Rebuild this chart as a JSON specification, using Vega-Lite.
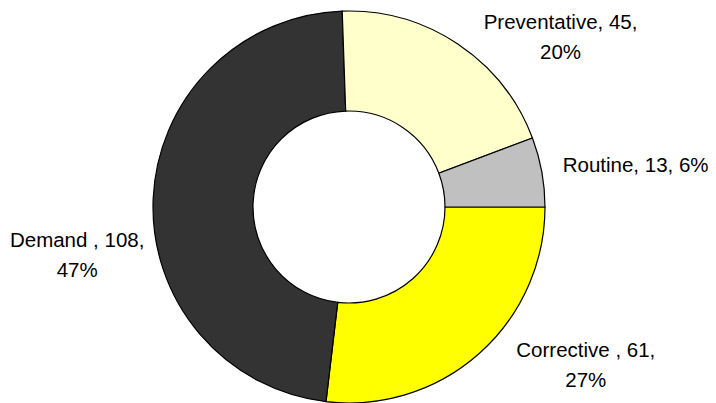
{
  "$schema": "https://vega.github.io/schema/vega-lite/v6.json",
  "width": 698,
  "height": 392,
  "autosize": {"type": "none"},
  "padding": {"left": 0, "top": 11, "right": 18, "bottom": 0},
  "background": "white",
  "view": {"stroke": null},
  "data": {
    "values": [
      {"category": "Corrective", "value": 61, "label": "Corrective , 61,\n27%"},
      {"category": "Demand", "value": 108, "label": "Demand , 108,\n47%"},
      {"category": "Preventative", "value": 45, "label": "Preventative, 45,\n20%"},
      {"category": "Routine", "value": 13, "label": "Routine, 13, 6%"}
    ]
  },
  "encoding": {
    "theta": {"field": "value", "type": "quantitative", "stack": true, "scale": {"range": [1.5707963, 7.8539816]}}
  },
  "layer": [
    {
      "mark": {"type": "arc", "outerRadius": 196, "innerRadius": 96, "stroke": "black", "strokeWidth": 1.2},
      "encoding": {
        "color": {
          "field": "category",
          "type": "nominal",
          "scale": {"domain": ["Corrective", "Demand", "Preventative", "Routine"], "range": ["#FFFF00", "#333333", "#FFFFCC", "#C0C0C0"]},
          "legend": null
        }
      }
    },
    {
      "mark": {"type": "text", "radius": 196, "dx": 106.6, "dy": 3.2, "align": "center", "baseline": "alphabetic", "font": "Liberation Sans", "fontSize": 20.5, "lineHeight": 30, "lineBreak": "\n", "color": "black"},
      "encoding": {"text": {"condition": {"test": "datum.category === 'Corrective'", "field": "label"}, "value": ""}}
    },
    {
      "mark": {"type": "text", "radius": 196, "dx": -76, "dy": 47.8, "align": "center", "baseline": "alphabetic", "font": "Liberation Sans", "fontSize": 20.5, "lineHeight": 30, "lineBreak": "\n", "color": "black"},
      "encoding": {"text": {"condition": {"test": "datum.category === 'Demand'", "field": "label"}, "value": ""}}
    },
    {
      "mark": {"type": "text", "radius": 196, "dx": 102.8, "dy": -14.9, "align": "center", "baseline": "alphabetic", "font": "Liberation Sans", "fontSize": 20.5, "lineHeight": 30, "lineBreak": "\n", "color": "black"},
      "encoding": {"text": {"condition": {"test": "datum.category === 'Preventative'", "field": "label"}, "value": ""}}
    },
    {
      "mark": {"type": "text", "radius": 196, "dx": 93.8, "dy": 0.3, "align": "center", "baseline": "alphabetic", "font": "Liberation Sans", "fontSize": 20.5, "lineHeight": 30, "lineBreak": "\n", "color": "black"},
      "encoding": {"text": {"condition": {"test": "datum.category === 'Routine'", "field": "label"}, "value": ""}}
    }
  ]
}
